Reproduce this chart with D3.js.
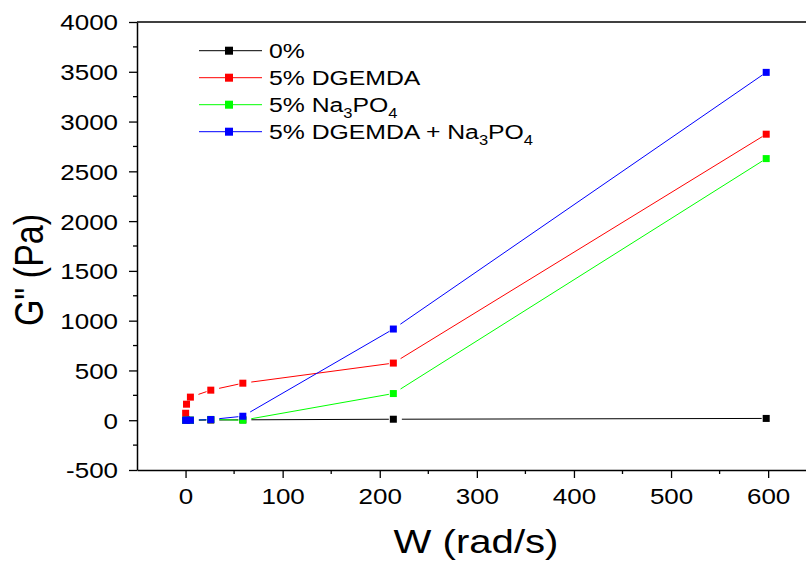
<!DOCTYPE html>
<html><head><meta charset="utf-8">
<script src="https://cdn.jsdelivr.net/npm/d3@7"></script>
<style>
body{margin:0;background:#fff}
svg{display:block}
text{font-family:"Liberation Sans",Arial,sans-serif;fill:#000}
</style>
</head><body>
<svg id="c" width="806" height="565"></svg>
<script>
// ---- data ----
const wValues = [0.1, 1, 5, 26, 59, 214, 598];
const g0      = [0, 0, 0, 2, 4, 10, 18];
const gDGEMDA = [70, 161, 232, 302, 372, 574, 2873];
const gNa     = [0, 0, 0, 8, 0, 268, 2628];
const gBoth   = [0, 0, 0, 7, 40, 916, 3494];
const seriesColors = ["#000000", "#ff0000", "#00ff00", "#0000ff"];
const seriesLabels = [
  [["0%", 0]],
  [["5% DGEMDA", 0]],
  [["5% Na", 0], ["3", 1], ["PO", 0], ["4", 1]],
  [["5% DGEMDA + Na", 0], ["3", 1], ["PO", 0], ["4", 1]]
];
const yTickValues = [-500, 0, 500, 1000, 1500, 2000, 2500, 3000, 3500, 4000];
const xTickValues = [0, 100, 200, 300, 400, 500, 600];
const xTitle = "W (rad/s)";
const yTitle = "G\" (Pa)";

// ---- layout ----
const SX = 1.18;
const svg = d3.select("#c");
const plotLeft = 137, plotTop = 22, plotBottom = 470;
const x = d3.scaleLinear().domain([-50, 650]).range([plotLeft, plotLeft + 0.971 * 700]);
const y = d3.scaleLinear().domain([-500, 4000]).range([plotBottom, plotTop]);
const fmt = d => String(d);

const series = [g0, gDGEMDA, gNa, gBoth].map((vals, i) => ({
  color: seriesColors[i],
  pts: wValues.map((w, j) => [x(w), y(vals[j])])
}));

// top frame line
svg.append("line").attr("x1", plotLeft).attr("x2", 806).attr("y1", plotTop).attr("y2", plotTop)
  .attr("stroke", "#000").attr("stroke-width", 1.5);

// y axis
const yMinor = d3.range(-500, 4001, 250).filter(v => !yTickValues.includes(v));
const yAxisG = svg.append("g").attr("transform", `translate(${plotLeft},0)`);
yAxisG.call(d3.axisLeft(y).tickValues(yTickValues).tickFormat(fmt).tickSize(8).tickSizeOuter(0).tickPadding(10));
yAxisG.selectAll(".tick text")
  .attr("font-size", 22).attr("font-family", "Liberation Sans, Arial, sans-serif")
  .attr("x", -19 / SX).attr("dy", "0.36em")
  .attr("transform", `scale(${SX},1)`);
yAxisG.selectAll("line").attr("stroke-width", 1.3);
yAxisG.select(".domain").attr("stroke-width", 1.5);
yAxisG.selectAll(".minor").data(yMinor).enter().append("line")
  .attr("x1", -4).attr("x2", 0).attr("y1", d => y(d)).attr("y2", d => y(d))
  .attr("stroke", "#000").attr("stroke-width", 1.3);

// x axis
const xMinor = d3.range(-50, 651, 50).filter(v => !xTickValues.includes(v) && v > -50);
const xAxisG = svg.append("g").attr("transform", `translate(0,${plotBottom})`);
xAxisG.call(d3.axisBottom(x).tickValues(xTickValues).tickFormat(fmt).tickSize(8).tickSizeOuter(0).tickPadding(10));
xAxisG.selectAll(".tick text")
  .attr("font-size", 22).attr("font-family", "Liberation Sans, Arial, sans-serif")
  .attr("y", 0).attr("dy", "1.0em")
  .attr("transform", `translate(0,12) scale(${SX},1)`);
xAxisG.selectAll("line").attr("stroke-width", 1.3);
xAxisG.select(".domain").attr("stroke-width", 1.5);
xAxisG.selectAll(".minor").data(xMinor).enter().append("line")
  .attr("x1", d => x(d)).attr("x2", d => x(d)).attr("y1", 0).attr("y2", 4)
  .attr("stroke", "#000").attr("stroke-width", 1.3);

// axis titles
svg.append("text").attr("transform", `translate(476,553) scale(${SX},1)`)
  .attr("text-anchor", "middle").attr("font-size", 34).text(xTitle);
svg.append("text").attr("transform", `translate(43,270) rotate(-90) scale(1,${SX})`)
  .attr("text-anchor", "middle").attr("font-size", 34).text(yTitle);

// series lines with gaps
const GAP_START = 8.5, GAP_END = 4.5;
series.forEach(s => {
  const g = svg.append("g");
  for (let k = 0; k < s.pts.length - 1; k++) {
    const [x0, y0] = s.pts[k], [x1, y1] = s.pts[k + 1];
    const d = Math.hypot(x1 - x0, y1 - y0);
    if (d - GAP_END <= GAP_START) continue;
    const ux = (x1 - x0) / d, uy = (y1 - y0) / d;
    g.append("line")
      .attr("x1", x0 + ux * GAP_START).attr("y1", y0 + uy * GAP_START)
      .attr("x2", x1 - ux * GAP_END).attr("y2", y1 - uy * GAP_END)
      .attr("stroke", s.color).attr("stroke-width", 1);
  }
});
// markers
const MS = 7;
series.forEach(s => {
  svg.append("g").selectAll("rect").data(s.pts).enter().append("rect")
    .attr("x", d => d[0] - MS / 2).attr("y", d => d[1] - MS / 2)
    .attr("width", MS).attr("height", MS).attr("fill", s.color);
});

// legend
const legY0 = 50.7, legStep = 27;
seriesLabels.forEach((parts, i) => {
  const yy = legY0 + i * legStep;
  const c = seriesColors[i];
  svg.append("line").attr("x1", 199).attr("x2", 262).attr("y1", yy).attr("y2", yy)
    .attr("stroke", c).attr("stroke-width", 1);
  svg.append("rect").attr("x", 229 - 4).attr("y", yy - 4).attr("width", 8).attr("height", 8).attr("fill", c);
  const t = svg.append("text").attr("transform", `translate(269,${yy + 7.5}) scale(${SX},1)`)
    .attr("font-size", 21);
  let cur = 0;
  parts.forEach(([str, sub]) => {
    const target = sub ? 6 : 0;
    const ts = t.append("tspan").text(str).attr("dy", target - cur);
    if (sub) ts.attr("font-size", 14);
    cur = target;
  });
});
</script>
</body></html>
